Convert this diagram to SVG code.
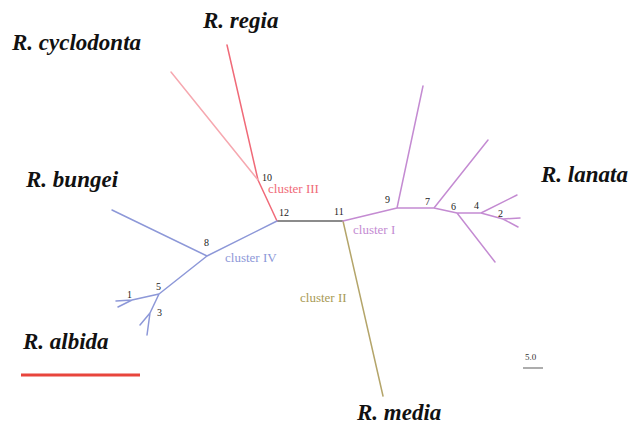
<svg xmlns="http://www.w3.org/2000/svg" width="634" height="426" viewBox="0 0 634 426">
<style>
.sp{font-family:"Liberation Serif","Times New Roman",serif;font-weight:bold;font-style:italic;font-size:23px;fill:#111}
.cl{font-family:"Liberation Serif","Times New Roman",serif;font-size:13px}
.n{font-family:"Liberation Serif","Times New Roman",serif;font-size:10px;fill:#222}
.e{fill:none;stroke-width:1.5;stroke-linecap:round;stroke-linejoin:round}
.c1{stroke:#c48bd2}.c2{stroke:#b4a56a}.c3{stroke:#f06a78}.c4{stroke:#8d98d8}
</style>
<rect width="634" height="426" fill="#fff"/>
<g id="edges">
<line class="e" x1="277" y1="221" x2="343" y2="221" stroke="#666"/>
<path class="e c3" d="M277,221 L258,180 L227,45"/>
<path class="e" stroke="#f6a8b0" d="M258,180 L171,72"/>
<path class="e c4" d="M277,221 L207,256 L112,210 M207,256 L159,294 L132,300 L116,301 M132,300 L118,307 M159,294 L150,313 L140,325 M150,313 L147,335"/>
<path class="e c2" d="M343,221 L383,396"/>
<path class="e c1" d="M343,221 L397,208 L423,86 M397,208 L434,208 L488,140 M434,208 L457,213 L495,262 M457,213 L481,213 L517,195 M481,213 L503,219 L520,218 M503,219 L518,227"/>
</g>
<g id="labels">
<text class="sp" x="12" y="50">R. cyclodonta</text>
<text class="sp" x="203" y="28">R. regia</text>
<text class="sp" x="26" y="187">R. bungei</text>
<text class="sp" x="541" y="182">R. lanata</text>
<text class="sp" x="23" y="349">R. albida</text>
<text class="sp" x="357" y="420">R. media</text>
<text class="cl" x="268" y="193" fill="#f06a78">cluster III</text>
<text class="cl" x="353" y="234" fill="#c48bd2">cluster I</text>
<text class="cl" x="225" y="262" fill="#8d98d8">cluster IV</text>
<text class="cl" x="300" y="302" fill="#a89a55">cluster II</text>
</g>
<g id="nodes">
<text class="n" x="262" y="181">10</text>
<text class="n" x="279" y="216">12</text>
<text class="n" x="334" y="215">11</text>
<text class="n" x="385" y="203">9</text>
<text class="n" x="425" y="205">7</text>
<text class="n" x="451" y="210">6</text>
<text class="n" x="474" y="209">4</text>
<text class="n" x="498" y="217">2</text>
<text class="n" x="204" y="246">8</text>
<text class="n" x="156" y="290">5</text>
<text class="n" x="127" y="298">1</text>
<text class="n" x="157" y="316">3</text>
</g>
<g id="scale">
<text x="525" y="360" font-family="Liberation Serif,serif" font-size="9" fill="#333">5.0</text>
<line x1="523" y1="368" x2="543" y2="368" stroke="#777" stroke-width="1.2"/>
<line x1="21" y1="375" x2="140" y2="375" stroke="#e8453c" stroke-width="3"/>
</g>
</svg>
